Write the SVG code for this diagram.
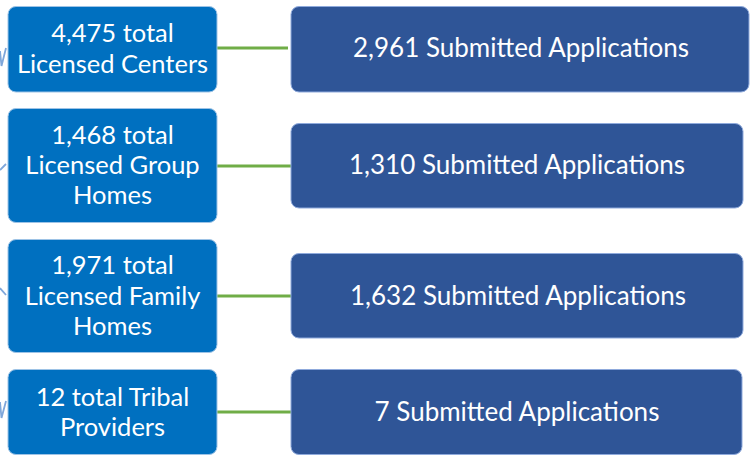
<svg xmlns="http://www.w3.org/2000/svg" width="752" height="455" viewBox="0 0 752 455">
<style>
.l{fill:#0070C0;stroke:#9DC3E6;stroke-width:1}
.r{fill:#2F5597;stroke:#8FAADC;stroke-width:1}
text{font-family:Lato,"Liberation Sans",sans-serif;font-size:25.5px;fill:#fff;text-anchor:middle}
.r + text,.big{font-size:26px}
.c{stroke:#70AD47;stroke-width:3;fill:none}
.a{stroke:#7FA7DA;stroke-width:1.8;fill:none}
</style>
<rect width="752" height="455" fill="#fff"/>
<g id="arcs">
<path class="a" d="M0,51 L1.5,66 L6,48"/>
<path class="a" d="M0,170 L6,164"/>
<path class="a" d="M0,288 L6,295"/>
<path class="a" d="M0,402 L1.5,418 L6,401"/>
</g>
<g id="connectors">
<line class="c" x1="217" y1="48" x2="288" y2="48"/>
<line class="c" x1="217" y1="166" x2="291" y2="166"/>
<line class="c" x1="217" y1="296" x2="291" y2="296"/>
<line class="c" x1="217" y1="412" x2="291" y2="412"/>
</g>
<g id="n1"><rect class="l" x="8" y="6.5" width="209" height="85.5" rx="8"/><text x="112.5" y="42">4,475 total</text><text x="112.5" y="73">Licensed Centers</text></g>
<g id="n2"><rect class="l" x="8" y="108.5" width="209" height="114" rx="8"/><text x="112.5" y="144">1,468 total</text><text x="112.5" y="174">Licensed Group</text><text x="112.5" y="204">Homes</text></g>
<g id="n3"><rect class="l" x="8" y="239.5" width="209" height="113" rx="8"/><text x="112.5" y="274">1,971 total</text><text x="112.5" y="305">Licensed Family</text><text x="112.5" y="335">Homes</text></g>
<g id="n4"><rect class="l" x="8" y="369.5" width="209" height="85" rx="8"/><text x="112.5" y="406">12 total Tribal</text><text x="112.5" y="436">Providers</text></g>
<g id="r1"><rect class="r" x="291" y="6.5" width="458" height="85.5" rx="8"/><text class="big" x="521" y="57">2,961 Submitted Applications</text></g>
<g id="r2"><rect class="r" x="291" y="123.5" width="452" height="84.5" rx="8"/><text class="big" x="517" y="174">1,310 Submitted Applications</text></g>
<g id="r3"><rect class="r" x="291" y="253.5" width="452" height="84.5" rx="8"/><text class="big" x="518" y="305">1,632 Submitted Applications</text></g>
<g id="r4"><rect class="r" x="291" y="369.5" width="451" height="85" rx="8"/><text class="big" x="517" y="421">7 Submitted Applications</text></g>
</svg>
